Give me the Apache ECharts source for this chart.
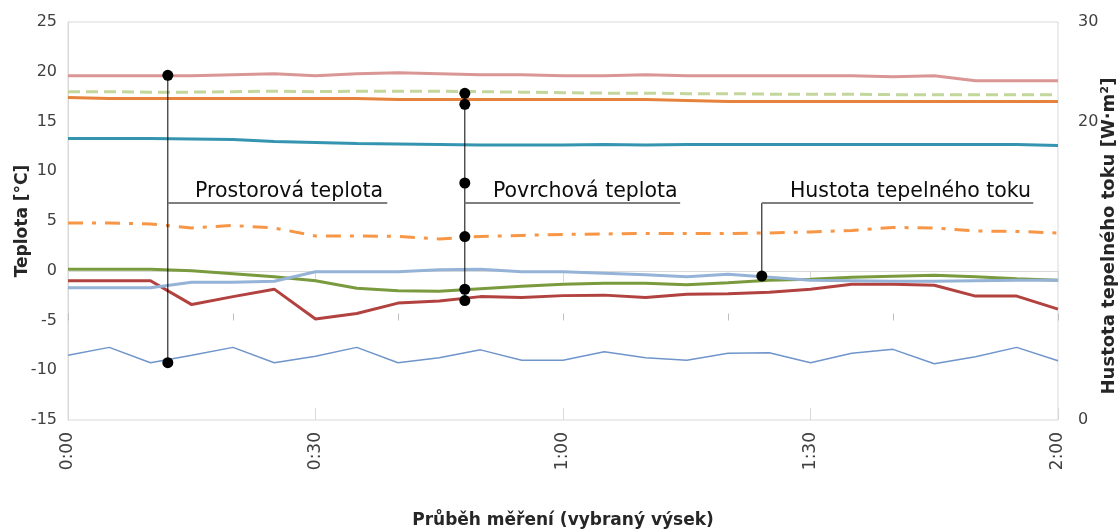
<!DOCTYPE html>
<html>
<head>
<meta charset="utf-8">
<script src="https://cdn.jsdelivr.net/npm/echarts@6/dist/echarts.min.js"></script>
<style>html,body{margin:0;padding:0;background:#fff}#c{width:1118px;height:530px}</style>
</head>
<body>
<div id="c"></div>
<script>
// time of measurement in minutes (every 5 min, 0:00 .. 2:00)
const minutes = [0,5,10,15,20,25,30,35,40,45,50,55,60,65,70,75,80,85,90,95,100,105,110,115,120];

const sPink      = [19.6,19.6,19.6,19.6,19.7,19.8,19.6,19.8,19.9,19.8,19.7,19.7,19.6,19.6,19.7,19.6,19.6,19.6,19.6,19.6,19.5,19.6,19.1,19.1,19.1];
const sGreenDash = [18.0,18.0,17.95,17.95,18.0,18.05,18.0,18.05,18.05,18.05,18.0,17.95,17.9,17.85,17.85,17.8,17.8,17.75,17.75,17.75,17.7,17.7,17.7,17.7,17.7];
const sOrange    = [17.4,17.3,17.3,17.3,17.3,17.3,17.3,17.3,17.2,17.2,17.2,17.2,17.2,17.2,17.2,17.1,17.0,17.0,17.0,17.0,17.0,17.0,17.0,17.0,17.0];
const sTeal      = [13.3,13.3,13.3,13.25,13.2,13.0,12.9,12.8,12.75,12.7,12.65,12.65,12.65,12.7,12.65,12.7,12.7,12.7,12.7,12.7,12.7,12.7,12.7,12.7,12.6];
const sDashDot   = [4.8,4.8,4.7,4.3,4.55,4.3,3.5,3.5,3.45,3.2,3.45,3.55,3.65,3.7,3.75,3.75,3.75,3.8,3.9,4.05,4.35,4.3,4.0,3.95,3.8];
const sGreen     = [0.15,0.15,0.15,0.0,-0.3,-0.6,-1.0,-1.75,-2.0,-2.05,-1.8,-1.55,-1.35,-1.25,-1.25,-1.4,-1.2,-0.95,-0.85,-0.65,-0.55,-0.45,-0.6,-0.8,-0.95];
const sLightBlue = [-1.7,-1.7,-1.7,-1.15,-1.15,-1.05,-0.1,-0.1,-0.1,0.1,0.15,-0.1,-0.1,-0.25,-0.4,-0.6,-0.35,-0.65,-0.95,-1.0,-1.05,-1.05,-1.0,-0.95,-0.95];
const sRed       = [-1.0,-1.0,-1.0,-3.4,-2.6,-1.85,-4.85,-4.3,-3.25,-3.05,-2.6,-2.7,-2.5,-2.45,-2.7,-2.35,-2.3,-2.15,-1.85,-1.35,-1.35,-1.45,-2.55,-2.55,-3.85];
const sThinBlue  = [-8.5,-7.7,-9.25,-8.5,-7.7,-9.25,-8.6,-7.7,-9.25,-8.75,-7.95,-9.0,-9.0,-8.15,-8.75,-9.0,-8.3,-8.25,-9.25,-8.3,-7.9,-9.35,-8.65,-7.7,-9.05];

// annotation callouts
const annoNames   = ['Prostorová teplota', 'Povrchová teplota', 'Hustota tepelného toku'];
const annoX       = [12.1, 48.1, 84.1];
const annoDots    = [[19.64, -9.24], [17.83, 16.73, 8.82, 3.43, -1.86, -3.0], [-0.53]];
const annoShelfY  = 6.8;
const annoShelfX2 = [38.7, 74.2, 117.0];
const annoTextX   = [15.4, 51.5, 87.5];

const leftTicks  = {min: -15, max: 25, step: 5};
const rightTicks = {min: -10, max: 30, step: 10};

const FONT = 'DejaVu Sans';
const zip = arr => minutes.map((m, i) => [m, arr[i]]);
const lineS = (data, color, width, type, z) => ({
  type: 'line', data: zip(data), symbol: 'none', smooth: false, z: z || 2,
  lineStyle: {color, width, type: type || 'solid', cap: 'butt'}
});

const series = [
  lineS(sThinBlue, '#6f95cb', 1.5),
  lineS(sRed, '#b2423f', 3),
  lineS(sGreen, '#7a9a3e', 3),
  lineS(sLightBlue, '#95b3d7', 3),
  lineS(sDashDot, '#f79646', 3, [15, 9, 4, 9]),
  lineS(sTeal, '#3595b0', 3),
  lineS(sOrange, '#e5823b', 3),
  lineS(sGreenDash, '#c3d69b', 3, [12, 6]),
  lineS(sPink, '#d99694', 3)
];

annoNames.forEach((name, k) => {
  const dots = annoDots[k];
  const top = Math.max(annoShelfY, ...dots);
  const bot = Math.min(annoShelfY, ...dots);
  series.push({
    type: 'line', data: [[annoX[k], top], [annoX[k], bot]], symbol: 'none', z: 5,
    lineStyle: {color: '#000', width: 1}
  });
  series.push({
    type: 'line', data: [[annoX[k], annoShelfY], [annoShelfX2[k], annoShelfY]], symbol: 'none', z: 5,
    lineStyle: {color: '#7f7f7f', width: 2}
  });
  series.push({
    type: 'scatter', data: dots.map(v => [annoX[k], v]), symbol: 'circle', symbolSize: 11, z: 6,
    itemStyle: {color: '#000', opacity: 1}
  });
  series.push({
    type: 'scatter', data: [[annoTextX[k], annoShelfY]], symbolSize: 0, z: 6,
    itemStyle: {opacity: 1},
    label: {show: true, formatter: name, position: [0, -1], align: 'left', verticalAlign: 'bottom',
      fontFamily: FONT, fontSize: 20.5, color: '#0d0d0d', textBorderWidth: 0, opacity: 1}
  });
});

const fmtTime = v => Math.floor(v / 60) + ':' + String(v % 60).padStart(2, '0');

const chart = echarts.init(document.getElementById('c'), null, {renderer: 'canvas'});
chart.setOption({
  animation: false,
  backgroundColor: '#fff',
  textStyle: {fontFamily: FONT},
  grid: {left: 68, right: 60, top: 22, bottom: 110, show: true, borderColor: '#d9d9d9', borderWidth: 1,
    containLabel: false, outerBoundsMode: 'none'},
  xAxis: [
    {
      type: 'value', min: 0, max: 120, interval: 30, position: 'bottom',
      axisLine: {show: true, lineStyle: {color: '#d9d9d9', width: 1}},
      axisTick: {show: true, inside: false, length: 11, lineStyle: {color: '#d9d9d9'}},
      splitLine: {show: false},
      axisLabel: {formatter: fmtTime, rotate: 90, margin: 12, fontFamily: FONT, fontSize: 17, color: '#404040'},
      name: 'Průběh měření (vybraný výsek)', nameLocation: 'middle', nameGap: 92,
      nameTextStyle: {fontFamily: FONT, fontSize: 17, fontWeight: 'bold', color: '#262626'}
    },
    {
      type: 'value', min: 0, max: 120, interval: 20, position: 'bottom',
      axisLine: {show: false}, splitLine: {show: false}, axisLabel: {show: false},
      axisTick: {show: true, inside: true, length: 7, lineStyle: {color: '#bfbfbf'}}
    },
    {
      type: 'value', min: 0, max: 120, interval: 30, position: 'bottom',
      axisLine: {show: false}, splitLine: {show: false}, axisLabel: {show: false},
      axisTick: {show: true, inside: true, length: 12, lineStyle: {color: '#d9d9d9'}}
    }
  ],
  yAxis: [
    {
      type: 'value', min: leftTicks.min, max: leftTicks.max, interval: leftTicks.step, position: 'left',
      axisLine: {show: true, lineStyle: {color: '#d9d9d9'}}, axisTick: {show: false}, splitLine: {show: false},
      axisLabel: {fontFamily: FONT, fontSize: 16, color: '#404040', margin: 11},
      name: 'Teplota [°C]', nameLocation: 'middle', nameGap: 37, nameRotate: 90, nameMoveOverlap: false,
      nameTextStyle: {fontFamily: FONT, fontSize: 17, fontWeight: 'bold', color: '#262626'}
    },
    {
      type: 'value', min: rightTicks.min, max: rightTicks.max, interval: rightTicks.step, position: 'right',
      axisLine: {show: true, lineStyle: {color: '#d9d9d9'}}, axisTick: {show: false}, splitLine: {show: false},
      axisLabel: {fontFamily: FONT, fontSize: 16, color: '#404040', margin: 20,
        formatter: v => v >= 20 ? String(v) : (v === rightTicks.min ? '0' : '')},
      name: 'Hustota tepelného toku [W·m²]', nameLocation: 'middle', nameGap: 42, nameRotate: 90, nameMoveOverlap: false,
      nameTextStyle: {fontFamily: FONT, fontSize: 18, fontWeight: 'bold', color: '#262626', padding: [0, 30, 0, 0]}
    }
  ],
  series: series
});
</script>
</body>
</html>
